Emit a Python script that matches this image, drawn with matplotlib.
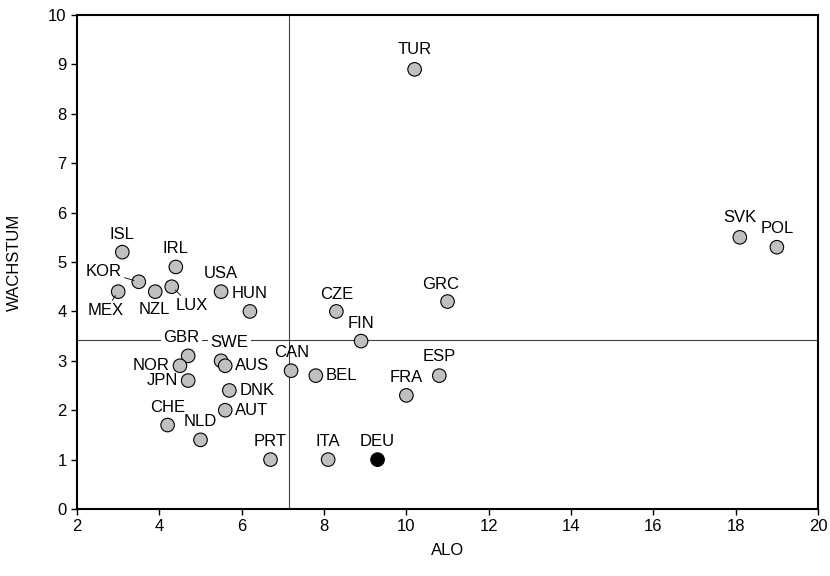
import matplotlib
matplotlib.use("Agg")
import matplotlib.pyplot as plt

plt.rcParams['font.family'] = ['Liberation Sans', 'DejaVu Sans']

# Daten
countries = ['TUR', 'SVK', 'POL', 'GRC', 'CZE', 'FIN', 'ESP', 'FRA', 'BEL', 'CAN',
             'DEU', 'ITA', 'PRT', 'ISL', 'KOR', 'MEX', 'NZL', 'LUX', 'IRL', 'USA',
             'HUN', 'GBR', 'NOR', 'SWE', 'AUS', 'JPN', 'DNK', 'AUT', 'CHE', 'NLD']
alo = [10.2, 18.1, 19.0, 11.0, 8.3, 8.9, 10.8, 10.0, 7.8, 7.2,
       9.3, 8.1, 6.7, 3.1, 3.5, 3.0, 3.9, 4.3, 4.4, 5.5,
       6.2, 4.7, 4.5, 5.5, 5.6, 4.7, 5.7, 5.6, 4.2, 5.0]
wachstum = [8.9, 5.5, 5.3, 4.2, 4.0, 3.4, 2.7, 2.3, 2.7, 2.8,
            1.0, 1.0, 1.0, 5.2, 4.6, 4.4, 4.4, 4.5, 4.9, 4.4,
            4.0, 3.1, 2.9, 3.0, 2.9, 2.6, 2.4, 2.0, 1.7, 1.4]
mean_alo = 7.15
mean_wachstum = 3.42

# Beschriftungs-Offsets (Pixel), Ausrichtung
label_pos = {
    'TUR': (0, 20, 'center'), 'SVK': (0, 20, 'center'), 'POL': (0, 19, 'center'),
    'GRC': (-7, 17, 'center'), 'CZE': (0, 17, 'center'), 'FIN': (0, 18, 'center'),
    'ESP': (0, 19, 'center'), 'FRA': (0, 18, 'center'), 'BEL': (10, 0, 'left'),
    'CAN': (1, 18, 'center'), 'DEU': (0, 18, 'center'), 'ITA': (0, 18, 'center'),
    'PRT': (0, 18, 'center'), 'ISL': (0, 18, 'center'), 'KOR': (-17, 10, 'right'),
    'MEX': (-13, -19, 'center'), 'NZL': (-1, -18, 'center'), 'LUX': (20, -19, 'center'),
    'IRL': (0, 18, 'center'), 'USA': (0, 18, 'center'), 'HUN': (0, 18, 'center'),
    'GBR': (-7, 18, 'center'), 'NOR': (-10, 0, 'right'), 'SWE': (8, 18, 'center'),
    'AUS': (10, 0, 'left'), 'JPN': (-10, 0, 'right'), 'DNK': (10, 0, 'left'),
    'AUT': (10, 0, 'left'), 'CHE': (0, 18, 'center'), 'NLD': (0, 18, 'center'),
}
leaders = {'KOR', 'MEX', 'LUX'}
boxed = {'GBR', 'SWE'}

fig = plt.figure(figsize=(8.3, 5.76), dpi=100)
ax = fig.add_axes([0.0928, 0.1163, 0.8928, 0.8576])

ax.axvline(mean_alo, color='#404040', lw=0.8, zorder=1)
ax.axhline(mean_wachstum, color='#404040', lw=0.8, zorder=1)

colors = ['black' if c == 'DEU' else '#c0c0c0' for c in countries]
ax.scatter(alo, wachstum, s=95, c=colors, edgecolors='black', linewidths=0.8, zorder=3)

for c, x, y in zip(countries, alo, wachstum):
    dx, dy, ha = label_pos[c]
    kw = {}
    if c in leaders:
        kw['arrowprops'] = dict(arrowstyle='-', color='black', lw=0.6, shrinkA=0, shrinkB=3.5)
    if c in boxed:
        kw['bbox'] = dict(boxstyle='square,pad=0.15', fc='white', ec='none')
    ax.annotate(c, (x, y), xytext=(dx, dy), textcoords='offset pixels',
                ha=ha, va='center', fontsize=12, zorder=4, **kw)

ax.set_xlim(2, 20)
ax.set_ylim(0, 10)
ax.set_xticks(range(2, 21, 2))
ax.set_yticks(range(0, 11))
ax.tick_params(direction='out', length=4, width=1, labelsize=12)
for s in ax.spines.values():
    s.set_linewidth(1.5)
ax.set_xlabel('ALO', fontsize=12, labelpad=6)
ax.set_ylabel('WACHSTUM', fontsize=12, labelpad=19)

fig.savefig('out.png', dpi=100)
